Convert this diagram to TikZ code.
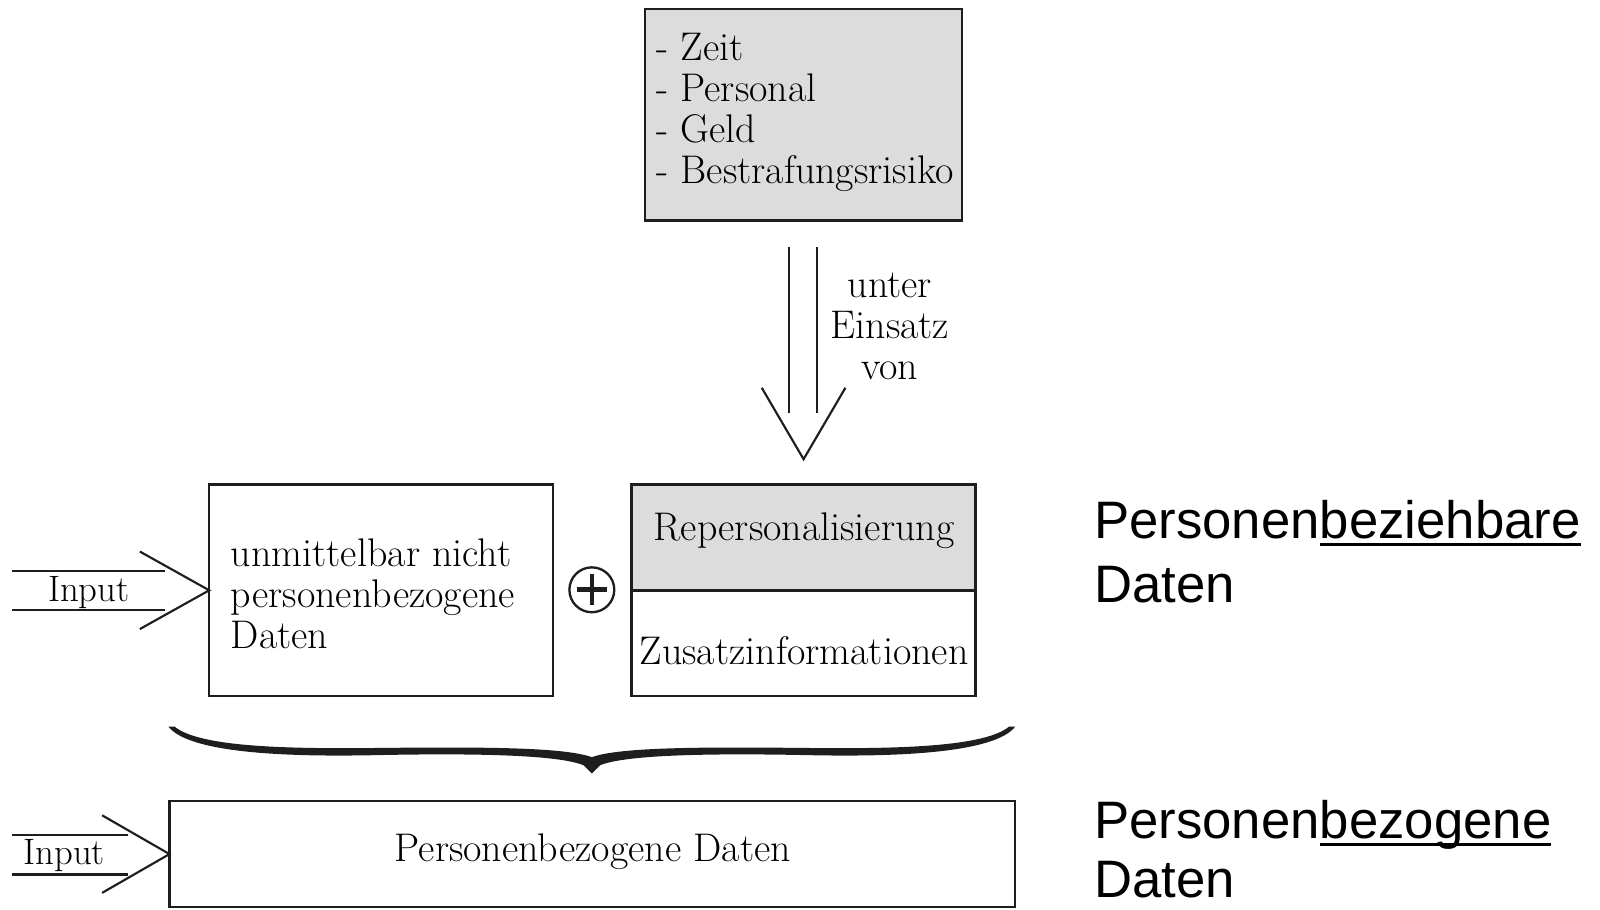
\documentclass[tikz,border=0pt]{standalone}
\usepackage{fontspec}
\newfontfamily\sansf{Liberation Sans}
\usetikzlibrary{calc}
\definecolor{boxgray}{HTML}{DCDCDC}
\definecolor{ink}{HTML}{1E1E1E}
\newcommand\myul[1]{\setbox0\hbox{#1}\rlap{\rule[-4.2pt]{\wd0}{2pt}}\box0}
\tikzset{
  box/.style={draw=ink, line width=1.4pt, inner sep=0pt, outer sep=0pt},
  txt/.style={font=\fontsize{22.3}{22.8}\selectfont, inner sep=0pt, text=black},
  inp/.style={font=\fontsize{20.5}{22}\selectfont, inner sep=0pt, text=black, anchor=base},
  ln/.style={line width=1.2pt, draw=ink},
  big/.style={font=\sansf\fontsize{29.4}{35}\selectfont, inner sep=0pt, anchor=base west}
}
\begin{document}
\begin{tikzpicture}[x=0.02cm, y=-0.02cm]
\useasboundingbox (0,0) rectangle (1568,891);
% boxes
\node[box, fill=boxgray, minimum width=6.22cm, minimum height=4.14cm] (res) at (787.5,112.5) {};
\node[box, minimum width=6.74cm, minimum height=4.14cm] (left) at (373.5,578.5) {};
\node[box, minimum width=6.74cm, minimum height=4.14cm] (right) at (787.5,578.5) {};
\fill[boxgray] ($(right.north west)+(1,1)$) rectangle ($(right.east)+(-1,0)$);
\draw[box] (right.north west) rectangle (right.south east);
\draw[box] (right.west) -- (right.east);
\node[box, minimum width=16.58cm, minimum height=2.08cm] (bot) at (580.5,837) {};
% texts
\node[txt, align=left, anchor=west] (restxt) at (643,110) {- Zeit\\- Personal\\- Geld\\- Bestrafungsrisiko};
\node[txt, align=center] (einsatz) at (872,320) {unter\\Einsatz\\von};
\node[txt, align=left, anchor=west] (lefttxt) at (226,582) {unmittelbar nicht\\personenbezogene\\Daten};
\node[txt] (rep) at (788,520) {Repersonalisierung};
\node[txt] (zus) at (788,638) {Zusatzinformationen};
\node[txt] (pbd) at (581,835) {Personenbezogene Daten};
% plus
\node[circle, draw=ink, line width=1.3pt, minimum size=0.88cm, inner sep=0pt] (plus) at (580,578) {};
\draw[ink, line width=2.6pt] ($(plus.center)+(-15,0)$) -- ($(plus.center)+(15,0)$);
\draw[ink, line width=2.6pt] ($(plus.center)+(0,-15)$) -- ($(plus.center)+(0,15)$);
% double arrow
\coordinate (tip) at ($(right.north)+(0,-25)$);
\draw[ln] ($(res.south)+(-14.5,26)$) -- ($(tip)+(-14.5,-45)$);
\draw[ln] ($(res.south)+(13.5,26)$) -- ($(tip)+(13.5,-45)$);
\draw[ln] ($(tip)+(-41,-70)$) -- (tip) -- ($(tip)+(41,-70)$);
% input arrow 1
\coordinate (in1) at (12,578.5);
\draw[ln] ($(in1)+(0,-19)$) -- ($(in1)+(150,-19)$);
\draw[ln] ($(in1)+(0,19)$) -- ($(in1)+(150,19)$);
\draw[ln] ($(left.west)+(-68,-38)$) -- (left.west) -- ($(left.west)+(-68,38)$);
\node[inp] (inp1) at (87,589) {Input};
% input arrow 2
\coordinate (in2) at (12,837);
\draw[ln] ($(in2)+(0,-19)$) -- ($(in2)+(113,-19)$);
\draw[ln] ($(in2)+(0,20)$) -- ($(in2)+(113,20)$);
\draw[ln] ($(bot.west)+(-66,-38)$) -- (bot.west) -- ($(bot.west)+(-66,38)$);
\node[inp] (inp2) at (63,847) {Input};
% brace
\fill[ink] (165,712) .. controls (185,738) and (280,742) .. (370,740)
  .. controls (470,738) and (548,740) .. (572,750) -- (580,758) -- (588,750)
  .. controls (612,740) and (690,738) .. (790,740)
  .. controls (880,742) and (975,738) .. (995,712) -- (989,712)
  .. controls (965,732) and (880,734) .. (790,733)
  .. controls (690,732) and (608,732) .. (580,742)
  .. controls (552,732) and (470,732) .. (370,733)
  .. controls (280,734) and (195,732) .. (171,712) -- cycle;
% right labels
\node[big] (l1) at (1072,528) {Personen\myul{beziehbare}};
\node[big] (l2) at (1072,590) {Daten};
\node[big] (l3) at (1072,822) {Personen\myul{bezogene}};
\node[big] (l4) at (1072,880) {Daten};
\end{tikzpicture}
\end{document}
